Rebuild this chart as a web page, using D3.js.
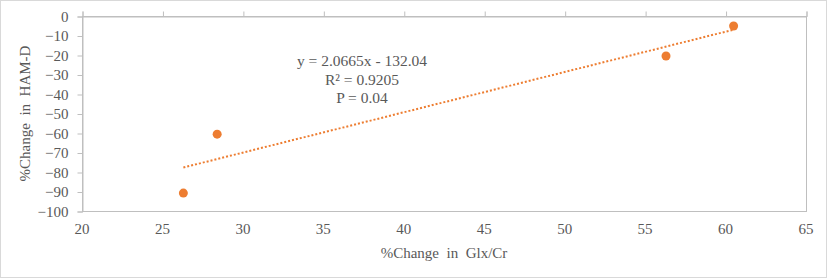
<!DOCTYPE html>
<html>
<head>
<meta charset="utf-8">
<script src="https://cdn.jsdelivr.net/npm/d3@7"></script>
<style>
  body { margin: 0; background: #fff; }
  svg { display: block; font-family: "Liberation Serif", "Times New Roman", serif; }
</style>
</head>
<body>
<script>
// data
const glxChange = [26.3, 28.4, 56.3, 60.5];
const hamdChange = [-90.8, -60.6, -20.5, -5.1];
const xTicks = [20, 25, 30, 35, 40, 45, 50, 55, 60, 65];
const yTicks = [0, -10, -20, -30, -40, -50, -60, -70, -80, -90, -100];
const trendCoef = [2.0665, -132.04];
const statLines = ["y = 2.0665x - 132.04", "R\u00b2 = 0.9205", "P = 0.04"];

const width = 830, height = 279;
const margin = { top: 16, right: 24, bottom: 68, left: 82 };
const orange = "#ED7D31";
const grey = "#BFBFBF";
const textCol = "#595959";

const svg = d3.select("body").append("svg")
    .attr("width", width)
    .attr("height", height);

// chart frame
svg.append("rect")
    .attr("x", 0.5).attr("y", 0.5)
    .attr("width", width - 4).attr("height", height - 2)
    .attr("fill", "#fff")
    .attr("stroke", "#D9D9D9");

const x = d3.scaleLinear().domain([20, 65]).range([margin.left, width - margin.right]);
const y = d3.scaleLinear().domain([-100, 0]).range([height - margin.bottom, margin.top]);

// plot border
svg.append("rect")
    .attr("x", x(20) + 0.5).attr("y", y(0) + 0.5)
    .attr("width", x(65) - x(20)).attr("height", y(-100) - y(0))
    .attr("fill", "none")
    .attr("stroke", grey);

// x axis sits at y = 0 (top), ticks upward, labels below the plot
const xAxis = svg.append("g")
    .attr("transform", `translate(0.5,${y(0) + 0.5})`)
    .call(d3.axisTop(x).tickValues(xTicks).tickSize(5).tickFormat(""));
xAxis.select(".domain").attr("stroke", grey);
xAxis.selectAll(".tick line").attr("stroke", grey);

svg.append("g").selectAll("text")
    .data(xTicks)
    .join("text")
    .attr("x", d => x(d))
    .attr("y", y(-100) + 23)
    .attr("text-anchor", "middle")
    .attr("fill", textCol)
    .style("font-size", "15px")
    .text(d => d);

const yAxis = svg.append("g")
    .attr("transform", `translate(${x(20) + 0.5},0.5)`)
    .attr("font-family", null)
    .call(d3.axisLeft(y).tickValues(yTicks).tickSize(5).tickPadding(9));
yAxis.attr("font-family", null).attr("font-size", null);
yAxis.select(".domain").attr("stroke", grey);
yAxis.selectAll(".tick line").attr("stroke", grey);
yAxis.selectAll(".tick text")
    .attr("fill", textCol)
    .style("font-size", "15px");

// axis titles
svg.append("text")
    .attr("x", (x(20) + x(65)) / 2)
    .attr("y", 258)
    .attr("text-anchor", "middle")
    .attr("fill", textCol)
    .style("font-size", "15px")
    .style("white-space", "pre")
    .text("%Change  in  Glx/Cr");

svg.append("text")
    .attr("transform", `translate(30,${(y(0) + y(-100)) / 2}) rotate(-90)`)
    .attr("text-anchor", "middle")
    .attr("fill", textCol)
    .style("font-size", "15px")
    .style("white-space", "pre")
    .text("%Change  in  HAM-D");

// trendline
const xMin = d3.min(glxChange), xMax = d3.max(glxChange);
const trend = d3.line()
    .x(d => x(d))
    .y(d => y(trendCoef[0] * d + trendCoef[1]));
svg.append("path")
    .datum([xMin, xMax])
    .attr("d", trend)
    .attr("fill", "none")
    .attr("stroke", orange)
    .attr("stroke-width", 2)
    .attr("stroke-dasharray", "2,2");

// points
svg.append("g").selectAll("circle")
    .data(glxChange.map((d, i) => [d, hamdChange[i]]))
    .join("circle")
    .attr("cx", d => x(d[0]))
    .attr("cy", d => y(d[1]))
    .attr("r", 4.5)
    .attr("fill", orange);

// trendline label
svg.append("g").selectAll("text")
    .data(statLines)
    .join("text")
    .attr("x", 362)
    .attr("y", (d, i) => 66 + i * 18.5)
    .attr("text-anchor", "middle")
    .attr("fill", textCol)
    .style("font-size", "15.5px")
    .text(d => d);
</script>
</body>
</html>
